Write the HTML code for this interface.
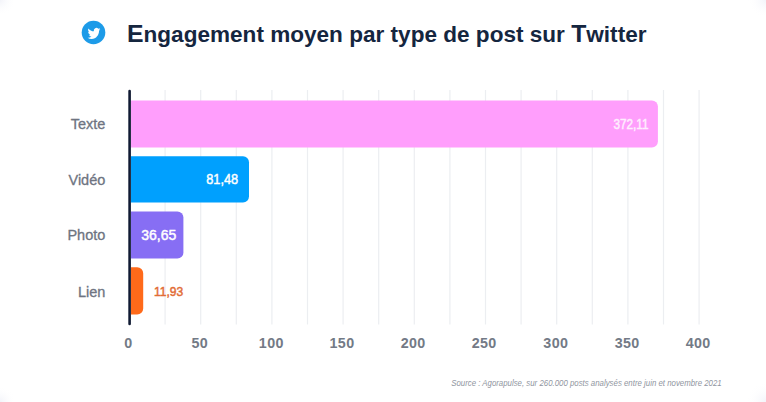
<!DOCTYPE html>
<html><head><meta charset="utf-8">
<style>
html,body{margin:0;padding:0;background:#fff;}
body{width:766px;height:402px;overflow:hidden;position:relative;font-family:"Liberation Sans",sans-serif;}
svg{position:absolute;left:0;top:0;}
</style></head><body>
<svg width="766" height="402" viewBox="0 0 766 402">
  <defs>
    <radialGradient id="c1" cx="0" cy="0" r="1" gradientUnits="objectBoundingBox"><stop offset="0" stop-color="#f2f3f9"/><stop offset="1" stop-color="#ffffff" stop-opacity="0"/></radialGradient>
    <radialGradient id="c2" cx="1" cy="0" r="1" gradientUnits="objectBoundingBox"><stop offset="0" stop-color="#f2f3f9"/><stop offset="1" stop-color="#ffffff" stop-opacity="0"/></radialGradient>
    <radialGradient id="c3" cx="0" cy="1" r="1" gradientUnits="objectBoundingBox"><stop offset="0" stop-color="#f2f3f9"/><stop offset="1" stop-color="#ffffff" stop-opacity="0"/></radialGradient>
    <radialGradient id="c4" cx="1" cy="1" r="1" gradientUnits="objectBoundingBox"><stop offset="0" stop-color="#f2f3f9"/><stop offset="1" stop-color="#ffffff" stop-opacity="0"/></radialGradient>
  </defs>
  <rect x="0" y="0" width="766" height="402" fill="#ffffff"/>
  <rect x="0" y="0" width="16" height="16" fill="url(#c1)"/>
  <rect x="748" y="0" width="18" height="18" fill="url(#c2)"/>
  <rect x="0" y="386" width="16" height="16" fill="url(#c3)"/>
  <rect x="746" y="382" width="20" height="20" fill="url(#c4)"/>
  <!-- twitter icon -->
  <circle cx="93.5" cy="32.5" r="11.8" fill="#1d9be8"/>
  <g transform="translate(87.6,26.6) scale(0.53,0.57)">
    <path fill="#fff" d="M23.953 4.57a10 10 0 01-2.825.775 4.958 4.958 0 002.163-2.723c-.951.555-2.005.959-3.127 1.184a4.92 4.92 0 00-8.384 4.482C7.69 8.095 4.067 6.13 1.64 3.162a4.822 4.822 0 00-.666 2.475c0 1.71.87 3.213 2.188 4.096a4.904 4.904 0 01-2.228-.616v.06a4.923 4.923 0 003.946 4.827 4.996 4.996 0 01-2.212.085 4.936 4.936 0 004.604 3.417 9.867 9.867 0 01-6.102 2.105c-.39 0-.779-.023-1.17-.067a13.995 13.995 0 007.557 2.209c9.053 0 13.998-7.496 13.998-13.985 0-.21 0-.42-.015-.63A9.935 9.935 0 0024 4.59z"/>
  </g>
  <text x="127" y="41.5" font-family="Liberation Sans" font-weight="bold" font-size="21.3" fill="#15263f" textLength="519.5" lengthAdjust="spacingAndGlyphs"><tspan font-size="23.4">E</tspan>ngagement moyen par type de post sur <tspan font-size="23.4">T</tspan>witter</text>

  <!-- grid -->
  <g stroke="#eceef1" stroke-width="1.2">
    <line x1="165.1" y1="90" x2="165.1" y2="324.5"/>
    <line x1="200.7" y1="90" x2="200.7" y2="324.5"/>
    <line x1="236.3" y1="90" x2="236.3" y2="324.5"/>
    <line x1="271.9" y1="90" x2="271.9" y2="324.5"/>
    <line x1="307.5" y1="90" x2="307.5" y2="324.5"/>
    <line x1="343.1" y1="90" x2="343.1" y2="324.5"/>
    <line x1="378.7" y1="90" x2="378.7" y2="324.5"/>
    <line x1="414.3" y1="90" x2="414.3" y2="324.5"/>
    <line x1="449.9" y1="90" x2="449.9" y2="324.5"/>
    <line x1="485.5" y1="90" x2="485.5" y2="324.5"/>
    <line x1="521.1" y1="90" x2="521.1" y2="324.5"/>
    <line x1="556.7" y1="90" x2="556.7" y2="324.5"/>
    <line x1="592.3" y1="90" x2="592.3" y2="324.5"/>
    <line x1="627.9" y1="90" x2="627.9" y2="324.5"/>
    <line x1="663.5" y1="90" x2="663.5" y2="324.5"/>
    <line x1="699.1" y1="90" x2="699.1" y2="324.5"/>
  </g>

  <!-- bars -->
  <path fill="#ff9efc" d="M131 100.5 H651.9 a6 6 0 0 1 6 6 V141.5 a6 6 0 0 1 -6 6 H131 Z"/>
  <path fill="#00a0fe" d="M131 156.3 H243 a6 6 0 0 1 6 6 V196.5 a6 6 0 0 1 -6 6 H131 Z"/>
  <path fill="#876ef4" d="M131 211.4 H177.4 a6 6 0 0 1 6 6 V252.4 a6 6 0 0 1 -6 6 H131 Z"/>
  <path fill="#ff6a1a" d="M131 267.3 H137.2 a6 6 0 0 1 6 6 V308.4 a6 6 0 0 1 -6 6 H131 Z"/>

  <!-- axis -->
  <line x1="129.6" y1="91" x2="129.6" y2="324" stroke="#101a33" stroke-width="2.6" stroke-linecap="round"/>

  <!-- bar values -->
  <g font-family="Liberation Sans" font-size="14" stroke-width="0.45" text-anchor="end">
    <text x="648.5" y="128.6" fill="#feeefe" stroke="#feeefe" stroke-width="0.5" textLength="35" lengthAdjust="spacingAndGlyphs">372,11</text>
    <text x="238.2" y="184" fill="#ffffff" stroke="#ffffff" textLength="32" lengthAdjust="spacingAndGlyphs">81,48</text>
    <text x="176.3" y="240.1" fill="#ffffff" stroke="#ffffff" textLength="35" lengthAdjust="spacingAndGlyphs">36,65</text>
  </g>
  <text x="153.9" y="295.9" textLength="29.3" lengthAdjust="spacingAndGlyphs" font-family="Liberation Sans" font-size="13.6" fill="#e26c36" stroke="#e26c36" stroke-width="0.5">11,93</text>

  <!-- category labels -->
  <g font-family="Liberation Sans" font-size="14.5" fill="#6e7481" stroke="#6e7481" stroke-width="0.3" text-anchor="end">
    <text x="105.3" y="129.1">Texte</text>
    <text x="105.3" y="184.6">Vidéo</text>
    <text x="105.3" y="239.8">Photo</text>
    <text x="105.3" y="297.4">Lien</text>
  </g>

  <!-- x ticks -->
  <g font-family="Liberation Sans" font-weight="bold" font-size="14.3" letter-spacing="0.35" fill="#737a86" text-anchor="middle">
    <text x="128.5" y="347.7">0</text>
    <text x="199.8" y="347.7">50</text>
    <text x="271.3" y="347.7">100</text>
    <text x="342" y="347.7">150</text>
    <text x="413.2" y="347.7">200</text>
    <text x="484.2" y="347.7">250</text>
    <text x="555.8" y="347.7">300</text>
    <text x="627.2" y="347.7">350</text>
    <text x="698.2" y="347.7">400</text>
  </g>

  <text x="451.2" y="386.1" font-family="Liberation Sans" font-style="italic" font-size="9.2" fill="#8f95a0" textLength="270.5" lengthAdjust="spacingAndGlyphs">Source : Agorapulse, sur 260.000 posts analysés entre juin et novembre 2021</text>
</svg>
</body></html>
